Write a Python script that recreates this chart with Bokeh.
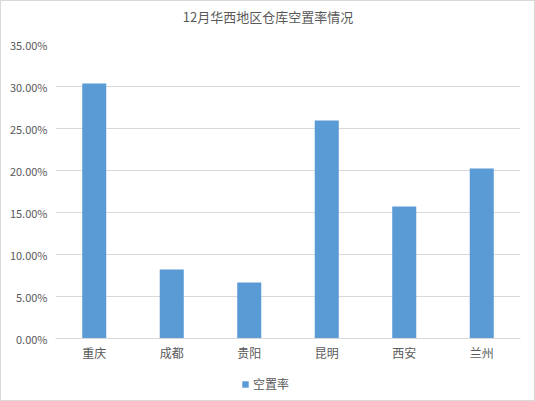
from bokeh.plotting import figure
from bokeh.layouts import column
from bokeh.models import ColumnDataSource, NumeralTickFormatter, Legend, LegendItem, FactorRange, Label
from bokeh.embed import file_html
from bokeh.resources import INLINE

categories = ["重庆", "成都", "贵阳", "昆明", "西安", "兰州"]
vacancy = [0.3036, 0.0821, 0.0667, 0.2595, 0.1571, 0.2024]
series_name = "空置率"
title_text = "12月华西地区仓库空置率情况"

FONT = "Noto Sans CJK SC"
TXT = "#595959"
GRID = "#d9d9d9"
BAR = "#5b9bd5"

src = ColumnDataSource(dict(cat=categories, val=vacancy))

# --- title strip ---
tp = figure(width=533, height=33, frame_width=465, frame_height=33,
            x_range=(0, 1), y_range=(0, 1),
            output_backend="svg", toolbar_location=None,
            x_axis_location=None, y_axis_location=None,
            min_border_left=54, min_border_right=14, min_border_top=0, min_border_bottom=0)
tp.title = None
tp.outline_line_color = None
tp.grid.visible = False
tp.add_layout(Label(x=212.5, y=18, x_units="screen", y_units="screen", text=title_text,
                    text_align="center", text_baseline="middle", text_font=FONT,
                    text_font_size="13px", text_color=TXT))

# --- main chart ---
p = figure(width=533, height=330, frame_width=465, frame_height=294,
           x_range=FactorRange(*categories, range_padding=0),
           y_range=(0, 0.35), output_backend="svg", toolbar_location=None,
           min_border_left=54, min_border_right=14, min_border_top=10, min_border_bottom=26)
p.title = None

r = p.vbar(x="cat", top="val", width=0.31, source=src, color=BAR, line_color=None)

p.outline_line_color = None
p.xgrid.grid_line_color = None
p.ygrid.grid_line_color = GRID
p.ygrid.grid_line_width = 1

p.yaxis.ticker = [0, 0.05, 0.10, 0.15, 0.20, 0.25, 0.30, 0.35]
p.yaxis.formatter = NumeralTickFormatter(format="0.00%")
p.yaxis.axis_line_color = None
p.yaxis.major_tick_line_color = None
p.yaxis.minor_tick_line_color = None
p.yaxis.major_tick_out = 0
p.yaxis.major_tick_in = 0
p.yaxis.minor_tick_out = 0
p.yaxis.major_label_text_font = FONT
p.yaxis.major_label_text_font_size = "11px"
p.yaxis.major_label_text_color = TXT
p.yaxis.major_label_standoff = 8

p.xaxis.axis_line_color = GRID
p.xaxis.major_tick_line_color = None
p.xaxis.minor_tick_line_color = None
p.xaxis.major_tick_out = 0
p.xaxis.major_tick_in = 0
p.xaxis.minor_tick_out = 0
p.xaxis.major_label_text_font = FONT
p.xaxis.major_label_text_font_size = "12px"
p.xaxis.major_label_text_color = TXT
p.xaxis.major_label_standoff = 5

# --- legend strip (bars lie outside its y range; only the legend shows) ---
lp = figure(width=533, height=36, frame_width=465, frame_height=36,
            x_range=FactorRange(*categories, range_padding=0), y_range=(1, 2),
            output_backend="svg", toolbar_location=None,
            x_axis_location=None, y_axis_location=None,
            min_border_left=54, min_border_right=14, min_border_top=0, min_border_bottom=0)
lp.title = None
lp.outline_line_color = None
lp.grid.visible = False
lr = lp.vbar(x="cat", top="val", width=0.31, source=src, color=BAR, line_color=None)
legend = Legend(items=[LegendItem(label=series_name, renderers=[lr])],
                orientation="horizontal", location=(186, 8),
                label_text_font=FONT, label_text_font_size="12px", label_text_color=TXT,
                glyph_width=8, glyph_height=8, label_standoff=4,
                border_line_color=None, background_fill_alpha=0, margin=0, padding=2)
lp.add_layout(legend, "center")

layout = column(tp, p, lp, spacing=0, styles={"border": "1px solid #d9d9d9"})

open("out.html", "w").write(file_html(layout, INLINE))
